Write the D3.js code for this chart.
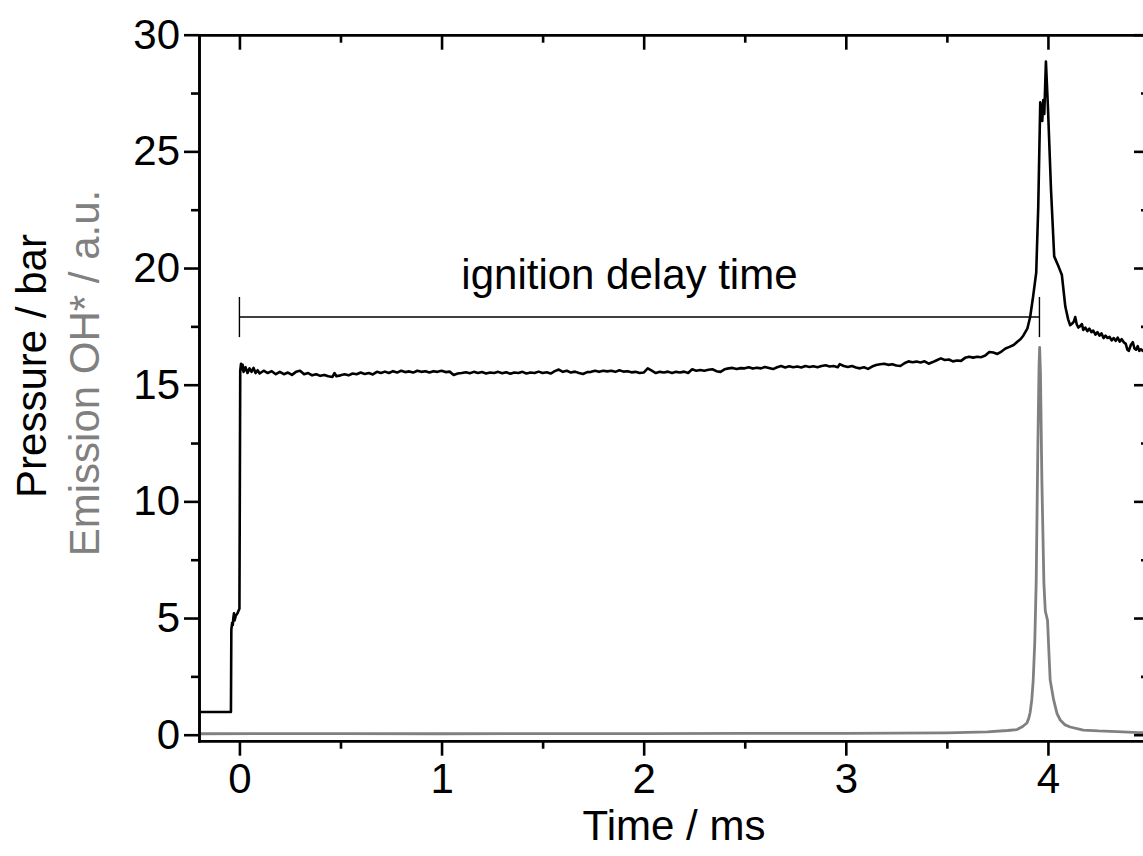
<!DOCTYPE html>
<html>
<head>
<meta charset="utf-8">
<script src="https://cdn.jsdelivr.net/npm/d3@7"></script>
<style>
	body { margin: 0; background: #fff; }
	svg { display: block; font-family: 'Liberation Sans', Arial, sans-serif; }
	.axis path, .axis line { stroke: #000; stroke-width: 2.6; }
	.axis text { font-size: 42px; fill: #000; font-family: 'Liberation Sans', Arial, sans-serif; }
</style>
</head>
<body>
<svg width="1143" height="856"></svg>
<script>
// pressure trace: [time / ms, pressure / bar]
const pressureTrace = [
	[-0.20, 0.97], [-0.10, 0.97], [-0.042, 0.97], [-0.040, 4.5], [-0.036, 4.8], [-0.033, 4.7], [-0.030, 5.0],
	[-0.027, 5.2], [-0.024, 4.9], [-0.018, 5.1], [-0.010, 5.2], [-0.005, 5.3], [0.000, 5.4],
	[0.004, 15.6], [0.008, 15.9], [0.012, 15.65], [0.016, 15.85], [0.02, 15.55], [0.03, 15.75], [0.04, 15.5],
	[0.05, 15.7], [0.06, 15.55], [0.07, 15.72], [0.08, 15.5], [0.09, 15.62], [0.10, 15.48], [0.12, 15.6],
	[0.14, 15.5], [0.16, 15.58], [0.18, 15.45], [0.20, 15.55], [0.22, 15.45], [0.24, 15.52], [0.26, 15.42],
	[0.28, 15.55], [0.30, 15.6], [0.32, 15.45], [0.34, 15.5], [0.36, 15.4], [0.38, 15.45], [0.40, 15.38],
	[0.42, 15.42], [0.44, 15.36], [0.46, 15.33], [0.47, 15.5], [0.48, 15.36], [0.50, 15.4], [0.52, 15.45],
	[0.54, 15.4], [0.56, 15.48], [0.58, 15.45], [0.60, 15.52], [0.62, 15.46], [0.64, 15.5], [0.66, 15.44],
	[0.68, 15.55], [0.70, 15.5], [0.72, 15.56], [0.74, 15.5], [0.76, 15.58], [0.78, 15.52], [0.80, 15.6],
	[0.82, 15.54], [0.84, 15.57], [0.86, 15.52], [0.88, 15.6], [0.90, 15.55], [0.92, 15.58], [0.94, 15.52],
	[0.96, 15.58], [0.98, 15.55], [1.00, 15.6], [1.02, 15.54], [1.04, 15.56], [1.06, 15.42], [1.08, 15.48],
	[1.10, 15.5], [1.12, 15.53], [1.14, 15.49], [1.16, 15.55], [1.18, 15.5], [1.20, 15.54], [1.22, 15.48],
	[1.24, 15.52], [1.26, 15.5], [1.28, 15.55], [1.30, 15.49], [1.32, 15.53], [1.34, 15.47], [1.36, 15.52],
	[1.38, 15.5], [1.40, 15.55], [1.42, 15.48], [1.44, 15.52], [1.46, 15.5], [1.48, 15.56], [1.50, 15.5],
	[1.52, 15.53], [1.54, 15.48], [1.56, 15.58], [1.58, 15.65], [1.60, 15.55], [1.62, 15.6], [1.64, 15.52],
	[1.66, 15.56], [1.68, 15.5], [1.70, 15.46], [1.72, 15.54], [1.74, 15.55], [1.76, 15.6], [1.78, 15.55],
	[1.80, 15.6], [1.82, 15.57], [1.84, 15.6], [1.86, 15.55], [1.88, 15.62], [1.90, 15.56], [1.92, 15.58],
	[1.94, 15.53], [1.96, 15.55], [1.98, 15.5], [2.00, 15.52], [2.02, 15.7], [2.04, 15.6], [2.06, 15.5],
	[2.08, 15.55], [2.10, 15.52], [2.12, 15.56], [2.14, 15.5], [2.16, 15.55], [2.18, 15.52], [2.20, 15.56],
	[2.22, 15.5], [2.24, 15.66], [2.26, 15.6], [2.28, 15.63], [2.30, 15.6], [2.32, 15.64], [2.34, 15.66],
	[2.36, 15.58], [2.38, 15.55], [2.40, 15.66], [2.42, 15.7], [2.44, 15.72], [2.46, 15.67], [2.48, 15.71],
	[2.50, 15.7], [2.52, 15.75], [2.54, 15.69], [2.56, 15.73], [2.58, 15.7], [2.60, 15.76], [2.62, 15.72],
	[2.64, 15.67], [2.66, 15.75], [2.68, 15.8], [2.70, 15.74], [2.72, 15.79], [2.74, 15.75], [2.76, 15.78],
	[2.78, 15.74], [2.80, 15.8], [2.82, 15.76], [2.84, 15.79], [2.86, 15.75], [2.88, 15.8], [2.90, 15.83],
	[2.92, 15.78], [2.94, 15.8], [2.96, 15.75], [2.97, 15.88], [2.99, 15.8], [3.01, 15.76], [3.03, 15.8],
	[3.05, 15.74], [3.07, 15.7], [3.09, 15.75], [3.11, 15.68], [3.13, 15.78], [3.15, 15.84], [3.17, 15.88],
	[3.19, 15.9], [3.21, 15.85], [3.23, 15.88], [3.25, 15.82], [3.27, 15.8], [3.29, 15.92], [3.31, 16.0],
	[3.33, 15.96], [3.35, 15.99], [3.37, 15.95], [3.39, 16.0], [3.41, 15.9], [3.43, 15.97], [3.45, 16.05],
	[3.47, 16.13], [3.49, 16.06], [3.51, 16.08], [3.53, 16.0], [3.55, 16.04], [3.57, 16.02], [3.59, 16.15],
	[3.61, 16.2], [3.63, 16.16], [3.65, 16.2], [3.67, 16.18], [3.69, 16.25], [3.71, 16.4], [3.73, 16.38],
	[3.75, 16.32], [3.77, 16.42], [3.79, 16.55], [3.81, 16.62], [3.83, 16.7], [3.85, 16.85], [3.864, 16.95],
	[3.878, 17.1], [3.898, 17.4], [3.912, 17.9], [3.927, 18.8], [3.942, 19.8], [3.952, 22.6], [3.962, 27.1],
	[3.968, 26.8], [3.972, 26.3], [3.977, 27.2], [3.982, 26.6], [3.990, 28.85], [4.000, 26.9], [4.015, 23.4],
	[4.031, 20.5], [4.051, 20.1], [4.060, 19.9], [4.069, 19.7], [4.086, 18.35], [4.100, 17.8], [4.110, 17.55],
	[4.120, 17.62], [4.128, 17.7], [4.135, 17.9], [4.142, 17.6], [4.150, 17.45], [4.158, 17.5], [4.168, 17.6],
	[4.175, 17.35], [4.185, 17.45], [4.195, 17.3], [4.205, 17.4], [4.215, 17.25], [4.224, 17.32], [4.235, 17.15],
	[4.245, 17.25], [4.255, 17.1], [4.265, 17.2], [4.275, 17.0], [4.285, 17.1], [4.295, 17.0], [4.305, 17.05],
	[4.315, 16.9], [4.325, 17.0], [4.335, 16.88], [4.345, 17.02], [4.355, 16.85], [4.365, 16.95], [4.375, 16.82],
	[4.385, 16.75], [4.393, 16.5], [4.400, 16.45], [4.410, 16.7], [4.420, 16.82], [4.428, 16.55], [4.436, 16.5],
	[4.444, 16.65], [4.452, 16.45], [4.460, 16.52], [4.470, 16.45], [4.480, 16.5], [4.490, 16.42], [4.500, 16.4]
]

// OH* emission trace: [time / ms, emission / a.u.]
const emissionTrace = [
	[-0.20, 0.04], [0.50, 0.05], [1.00, 0.04], [1.50, 0.05], [2.00, 0.05], [2.50, 0.06], [3.00, 0.06],
	[3.50, 0.08], [3.70, 0.12], [3.80, 0.18], [3.847, 0.22], [3.875, 0.35], [3.896, 0.5], [3.905, 0.7],
	[3.912, 0.95], [3.920, 1.5], [3.927, 2.3], [3.935, 4.0], [3.942, 6.6], [3.950, 12.3], [3.956, 15.8],
	[3.959, 16.6], [3.963, 15.5], [3.970, 10.9], [3.980, 6.5], [3.987, 5.3], [3.998, 4.9], [4.005, 3.5],
	[4.011, 2.35], [4.028, 1.5], [4.045, 0.9], [4.061, 0.63], [4.085, 0.42], [4.110, 0.33], [4.175, 0.2],
	[4.250, 0.16], [4.341, 0.13], [4.450, 0.09], [4.500, 0.08]
]

const xTicks = [0, 1, 2, 3, 4]
const yTicks = [0, 5, 10, 15, 20, 25, 30]
const xMinor = [0.5, 1.5, 2.5, 3.5]
const yMinor = [2.5, 7.5, 12.5, 17.5, 22.5, 27.5]

// ignition delay bracket: from t=0 to onset of OH* peak
const bracketStart = 0
const bracketEnd = 3.958
const bracketLevel = 17.9
const bracketHalf = 0.86
const bracketLabel = 'ignition delay time'

const xLabel = 'Time / ms'
const yLabel = 'Pressure / bar'
const y2Label = 'Emission OH* / a.u.'

const svg = d3.select('svg')
const mLeft = 199, mRight = 1149, mTop = 34.7, mBottom = 740.7

let xScale = d3.scaleLinear().domain([-0.2, 4.5]).range([mLeft, mRight])
let yScale = d3.scaleLinear().domain([-0.257, 30]).range([mBottom, mTop])
let eScale = d3.scaleLinear().domain([-0.257, 30]).range([mBottom, mTop])

svg.append('defs').append('clipPath').attr('id', 'clip')
	.append('rect')
	.attr('x', mLeft).attr('y', mTop)
	.attr('width', mRight - mLeft).attr('height', mBottom - mTop)

let plot = svg.append('g').attr('clip-path', 'url(#clip)')

let eLine = d3.line()
	.x(d => xScale(d[0]))
	.y(d => eScale(d[1]))
plot.append('path')
	.attr('d', eLine(emissionTrace))
	.attr('fill', 'none')
	.attr('stroke', '#808080')
	.attr('stroke-width', 2.8)
	.attr('stroke-linejoin', 'round')

let pLine = d3.line()
	.x(d => xScale(d[0]))
	.y(d => yScale(d[1]))
plot.append('path')
	.attr('d', pLine(pressureTrace))
	.attr('fill', 'none')
	.attr('stroke', '#000')
	.attr('stroke-width', 2.6)
	.attr('stroke-linejoin', 'round')

// bracket
let br = svg.append('g').attr('stroke', '#000').attr('stroke-width', 1.4)
br.append('line')
	.attr('x1', xScale(bracketStart)).attr('x2', xScale(bracketEnd))
	.attr('y1', yScale(bracketLevel)).attr('y2', yScale(bracketLevel))
;[bracketStart, bracketEnd].forEach(t => {
	br.append('line')
		.attr('x1', xScale(t)).attr('x2', xScale(t))
		.attr('y1', yScale(bracketLevel + bracketHalf)).attr('y2', yScale(bracketLevel - bracketHalf))
})
svg.append('text')
	.attr('x', (xScale(bracketStart) + xScale(bracketEnd)) / 2 - 10)
	.attr('y', 289)
	.attr('text-anchor', 'middle')
	.attr('font-size', 42)
	.text(bracketLabel)

// axes: left/bottom ticks outward, mirrored top/right ticks inward
let fmt = d3.format('d')
let bottomAxisG = svg.append('g').attr('class', 'axis').attr('transform', `translate(0, ${mBottom})`)
bottomAxisG.call(d3.axisBottom(xScale).tickValues(xTicks).tickFormat(fmt).tickSize(15).tickPadding(7).tickSizeOuter(0))
bottomAxisG.append('g').call(d3.axisBottom(xScale).tickValues(xMinor).tickSize(8).tickFormat('').tickSizeOuter(0))

let leftAxisG = svg.append('g').attr('class', 'axis').attr('transform', `translate(${mLeft}, 0)`)
leftAxisG.call(d3.axisLeft(yScale).tickValues(yTicks).tickFormat(fmt).tickSize(15).tickPadding(4).tickSizeOuter(0))
leftAxisG.append('g').call(d3.axisLeft(yScale).tickValues(yMinor).tickSize(8).tickFormat('').tickSizeOuter(0))

let topAxisG = svg.append('g').attr('class', 'axis').attr('transform', `translate(0, ${mTop})`)
topAxisG.call(d3.axisBottom(xScale).tickValues(xTicks).tickSize(15).tickFormat('').tickSizeOuter(0))
topAxisG.append('g').call(d3.axisBottom(xScale).tickValues(xMinor).tickSize(8).tickFormat('').tickSizeOuter(0))

let rightAxisG = svg.append('g').attr('class', 'axis').attr('transform', `translate(${mRight}, 0)`)
rightAxisG.call(d3.axisLeft(yScale).tickValues(yTicks).tickSize(15).tickFormat('').tickSizeOuter(0))
rightAxisG.append('g').call(d3.axisLeft(yScale).tickValues(yMinor).tickSize(8).tickFormat('').tickSizeOuter(0))

svg.selectAll('.axis .domain').attr('stroke-linecap', 'square')

// axis titles
svg.append('text')
	.attr('x', (mLeft + mRight) / 2)
	.attr('y', 840)
	.attr('text-anchor', 'middle')
	.attr('font-size', 42)
	.text(xLabel)

svg.append('text')
	.attr('transform', 'translate(46, 366) rotate(-90)')
	.attr('text-anchor', 'middle')
	.attr('font-size', 42)
	.text(yLabel)

svg.append('text')
	.attr('transform', 'translate(99, 373) rotate(-90)')
	.attr('text-anchor', 'middle')
	.attr('font-size', 42)
	.attr('fill', '#808080')
	.text(y2Label)
</script>
</body>
</html>
